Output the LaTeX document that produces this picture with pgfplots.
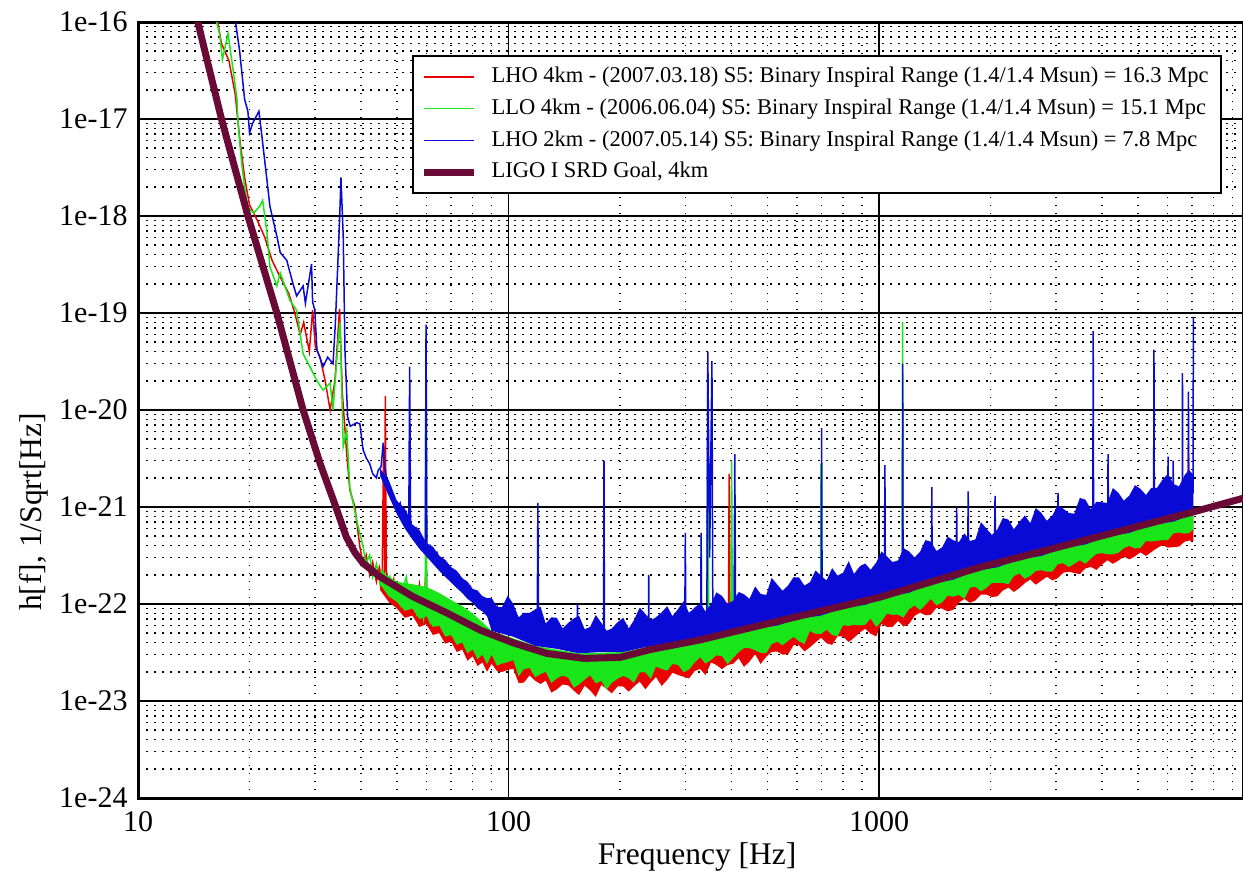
\documentclass[border=0pt]{standalone}
\usepackage{fontspec}
\setmainfont{Liberation Serif}
\usepackage{pgfplots}
\pgfplotsset{compat=1.18}
\frenchspacing

\definecolor{srd}{RGB}{105,10,55}
\definecolor{lhored}{RGB}{235,0,0}
\definecolor{llogreen}{RGB}{25,230,25}
\definecolor{lhoblue}{RGB}{10,10,215}

\begin{document}
\begin{tikzpicture}
\begin{axis}[
    xmode=log, ymode=log,
    log basis x=10, log basis y=10,
    scale only axis,
    width=442pt, height=310.4pt,
    xmin=10, xmax=9600,
    ymin=1e-24, ymax=1e-16,
    xtick={10,100,1000},
    xticklabels={10,100,1000},
    minor xtick={20,30,40,50,60,70,80,90,200,300,400,500,600,700,800,900,2000,3000,4000,5000,6000,7000,8000,9000},
    ytick={1e-24,1e-23,1e-22,1e-21,1e-20,1e-19,1e-18,1e-17,1e-16},
    yticklabels={1e-24,1e-23,1e-22,1e-21,1e-20,1e-19,1e-18,1e-17,1e-16},
    minor ytick={2e-24,3e-24,4e-24,5e-24,6e-24,7e-24,8e-24,9e-24,
                 2e-23,3e-23,4e-23,5e-23,6e-23,7e-23,8e-23,9e-23,
                 2e-22,3e-22,4e-22,5e-22,6e-22,7e-22,8e-22,9e-22,
                 2e-21,3e-21,4e-21,5e-21,6e-21,7e-21,8e-21,9e-21,
                 2e-20,3e-20,4e-20,5e-20,6e-20,7e-20,8e-20,9e-20,
                 2e-19,3e-19,4e-19,5e-19,6e-19,7e-19,8e-19,9e-19,
                 2e-18,3e-18,4e-18,5e-18,6e-18,7e-18,8e-18,9e-18,
                 2e-17,3e-17,4e-17,5e-17,6e-17,7e-17,8e-17,9e-17},
    major tick length=0pt, minor tick length=0pt,
    grid=both,
    major grid style={black, line width=0.5pt},
    minor grid style={black, line width=0.6pt, dash pattern=on 0.6pt off 2.6pt},
    axis line style={line width=1.2pt},
    tick label style={font=\fontsize{12}{14}\selectfont},
    xticklabel style={anchor=base, yshift=-13.2pt},
    yticklabel style={anchor=east, inner sep=0pt, xshift=-4pt},
    xlabel={Frequency [Hz]},
    ylabel={h[f], 1/Sqrt[Hz]},
    every axis x label/.style={at={(rel axis cs:0.506,0)}, yshift=-26.4pt, anchor=base,
        font=\fontsize{12.6}{15}\selectfont},
    every axis y label/.style={at={(rel axis cs:0,0.3686)}, xshift=-41.6pt, rotate=90, anchor=center,
        font=\fontsize{12.6}{15}\selectfont},
    legend cell align=left,
    legend image code/.code={\draw[#1] (0pt,0pt) -- (20pt,0pt);},
    legend style={at={(rel axis cs:1,1)}, anchor=north east, xshift=-8.4pt, yshift=-13.2pt,
        draw=black, line width=0.8pt, fill=white, inner xsep=3pt, inner ysep=2pt,
        column sep=3.6pt, row sep=0pt,
        nodes={inner xsep=2pt, inner ysep=1.75pt, text height=6.9pt, text depth=2.3pt},
        font=\fontsize{9}{11}\selectfont},
]

% ---------- LHO 4km (red) ----------
\addplot[forget plot, draw=none, fill=lhored] coordinates {
(45,1.4e-22)(47.5,1.05e-22)(50,9.0e-23)(52.5,7.2e-23)(55,7.6e-23)(57.5,5.8e-23)(60,6.2e-23)(62.5,4.8e-23)
(65,5.0e-23)(67.5,3.9e-23)(70,4.1e-23)(72.5,3.2e-23)(75,3.4e-23)(77.5,2.6e-23)(80,2.9e-23)(82.5,2.3e-23)
(85,2.5e-23)(87.5,2.0e-23)
(90,2.43e-23)(93,2.04e-23)(96,1.99e-23)(99.5,2.1e-23)(103,2.15e-23)(106.5,1.53e-23)(110,1.55e-23)(114,1.84e-23)
(118,1.62e-23)(122,1.5e-23)(126,1.63e-23)(130.5,1.22e-23)(135,1.32e-23)(140,1.48e-23)(145,1.45e-23)(150,1.28e-23)
(155,1.15e-23)(160.5,1.44e-23)(166,1.29e-23)(172,1.1e-23)(178,1.47e-23)(184,1.33e-23)(190,1.2e-23)(197,1.42e-23)
(204,1.41e-23)(211,1.25e-23)(218,1.41e-23)(226,1.59e-23)(234,1.32e-23)(242,1.55e-23)(250,1.77e-23)(259,1.43e-23)
(268,1.65e-23)(277,1.96e-23)(287,1.85e-23)(297,1.78e-23)(307,1.71e-23)(318,2.04e-23)(329,2.14e-23)(340,1.85e-23)
(352,2.5e-23)(364,2.35e-23)(377,2.13e-23)(390,2.35e-23)(404,2.42e-23)(418,2.76e-23)(432,2.25e-23)(447,2.55e-23)
(463,3.04e-23)(479,2.41e-23)(496,2.86e-23)(513,3.21e-23)(531,3.24e-23)(549,3.01e-23)(568,3.03e-23)(588,3.78e-23)
(608,3.75e-23)(629,3.25e-23)(651,3.59e-23)(674,4.03e-23)(697,4.49e-23)(722,3.94e-23)(747,3.79e-23)(773,4.66e-23)
(800,4.61e-23)(828,4.06e-23)(856,4.49e-23)(886,5.06e-23)(917,5.56e-23)(949,4.95e-23)(982,4.64e-23)(1015,6.24e-23)
(1050,5.83e-23)(1087,5.81e-23)(1125,6.7e-23)(1164,5.86e-23)(1205,6.24e-23)(1247,7.55e-23)(1290,8.16e-23)(1334,7.66e-23)
(1380,7.77e-23)(1429,9.15e-23)(1480,8.97e-23)(1532,8.38e-23)(1585,8.71e-23)(1641,10.3e-23)(1700,11.3e-23)(1759,10.3e-23)
(1820,10.9e-23)(1884,12.5e-23)(1950,12.5e-23)(2016,11.8e-23)(2085,12.0e-23)(2159,13.8e-23)(2235,14.8e-23)(2311,13.3e-23)
(2390,14.6e-23)(2474,16.4e-23)(2560,17.9e-23)(2648,15.8e-23)(2740,17.4e-23)(2836,19.1e-23)(2935,17.5e-23)(3038,18.5e-23)
(3145,21.1e-23)(3253,21.5e-23)(3365,20.9e-23)(3483,20.3e-23)(3605,23.3e-23)(3730,24.1e-23)(3860,22.5e-23)(3993,25.4e-23)
(4130,28.3e-23)(4275,26.0e-23)(4425,28.1e-23)(4580,30.8e-23)(4740,28.8e-23)(4905,31.1e-23)(5075,34.1e-23)(5252,31.3e-23)
(5435,34.4e-23)(5624,37.7e-23)(5820,40.5e-23)(6022,38.1e-23)(6230,38.6e-23)(6446,39.1e-23)(6670,43.8e-23)(6857,45.1e-23)
(7050,44.6e-23)
(7050,80.2e-23)(5435,61.8e-23)(4130,47.2e-23)(3145,35.9e-23)(2390,27.4e-23)(1820,20.9e-23)(1380,15.2e-23)(1050,11.2e-23)
(800,8.6e-23)(608,6.75e-23)(463,5.3e-23)(352,4.1e-23)(268,3.3e-23)(204,2.6e-23)(155,2.5e-23)(118,3.0e-23)(90,4.4e-23)
(85,5.0e-23)(80,6.2e-23)(75,7.5e-23)(70,8.8e-23)(65,1.05e-22)(60,1.2e-22)(55,1.35e-22)(50,1.5e-22)(45,1.9e-22)
};
\addplot[forget plot, lhored, line width=0.6pt] coordinates {
(16.2,1.3e-16)(16.8,6e-17)(17.6,4e-17)(18.3,1.8e-17)(18.8,6.5e-18)(19.4,2.5e-18)(20,1.3e-18)(21,9e-19)
(22,6e-19)(23,3.5e-19)(24,2.5e-19)(25.5,1.6e-19)(26.5,1.0e-19)(27.4,6e-20)(28,8e-20)(29,4e-20)
(29.6,1.07e-19)(30.1,4.5e-20)(31,3.5e-20)(32,2.0e-20)(33,1.0e-20)(34,2e-20)(35.0,1.1e-19)(35.6,1.5e-20)
(36.5,4e-21)(37.3,1.5e-21)(38.5,1.0e-21)(39.7,3.9e-22)(40.5,2.6e-22)(41.3,3.2e-22)(42.2,2.0e-22)(43,2.7e-22)
(44,1.7e-22)(44.8,2.4e-22)(45.6,1.8e-22)(46.0,4.2e-21)(46.3,2.0e-22)(46.5,1.4e-20)(46.8,2.2e-22)(48,1.3e-22)
(49,1.8e-22)(50,1.1e-22)(51.5,1.5e-22)(53,9.5e-23)(54.5,1.3e-22)(56,8.5e-23)(57.5,1.6e-22)(59,7.5e-23)
(59.9,2.5e-22)(60.5,7e-23)(62,9e-23)(63.5,5.8e-23)(65,8e-23)(66.5,5.2e-23)(68,7.2e-23)(70,4.6e-23)
(72,6.4e-23)(74,4.2e-23)(76,5.8e-23)(78,3.7e-23)(80,5.2e-23)(82,3.3e-23)(84,4.6e-23)(86,3.0e-23)
(88,4.2e-23)(90,2.7e-23)(92,3.8e-23)(94,2.5e-23)(103,2.6e-23)(166,1.8e-23)(250,2.3e-23)(392,3.3e-23)
(394,2.2e-21)(396,3.3e-23)(700,5.5e-23)(1034,7.8e-23)(1037,4e-22)(1040,7.8e-23)(3000,2.5e-22)(6830,5.5e-22)
(6840,4.5e-21)(6850,5.5e-22)(7050,5.8e-22)
};

% ---------- LLO 4km (green) ----------
\addplot[forget plot, draw=none, fill=llogreen] coordinates {
(45,1.6e-22)(47.5,1.2e-22)(50,1.05e-22)(52.5,8.5e-23)(55,9.0e-23)(57.5,7.0e-23)(60,7.5e-23)(62.5,5.8e-23)
(65,6.0e-23)(67.5,4.6e-23)(70,4.8e-23)(72.5,3.8e-23)(75,4.0e-23)(77.5,3.1e-23)(80,3.4e-23)(82.5,2.7e-23)
(85,3.0e-23)(87.5,2.4e-23)
(90,3.0e-23)(93,2.32e-23)(96,2.43e-23)(99.5,2.52e-23)(103,2.63e-23)(106.5,1.8e-23)(110,2.13e-23)(114,2.19e-23)
(118,1.76e-23)(122,1.89e-23)(126,2.0e-23)(130.5,1.53e-23)(135,1.71e-23)(140,1.83e-23)(145,1.74e-23)(150,1.37e-23)
(155,1.48e-23)(160.5,1.66e-23)(166,1.84e-23)(172,1.52e-23)(178,1.61e-23)(184,1.31e-23)(190,1.54e-23)(197,1.7e-23)
(204,1.81e-23)(211,1.72e-23)(218,1.54e-23)(226,1.97e-23)(234,1.97e-23)(242,1.69e-23)(250,2.26e-23)(259,2.14e-23)
(268,2.05e-23)(277,2.41e-23)(287,2.35e-23)(297,1.98e-23)(307,2.11e-23)(318,2.5e-23)(329,2.82e-23)(340,2.43e-23)
(352,2.64e-23)(364,2.96e-23)(377,2.9e-23)(390,2.4e-23)(404,2.78e-23)(418,3.19e-23)(432,3.51e-23)(447,3.51e-23)
(463,3.33e-23)(479,3.14e-23)(496,3.11e-23)(513,3.85e-23)(531,4.1e-23)(549,3.76e-23)(568,4.16e-23)(588,4.58e-23)
(608,4.13e-23)(629,3.87e-23)(651,5.27e-23)(674,4.93e-23)(697,4.91e-23)(722,5.43e-23)(747,4.79e-23)(773,4.66e-23)
(800,6.05e-23)(828,5.94e-23)(856,6.12e-23)(886,6.01e-23)(917,6.1e-23)(949,7.09e-23)(982,5.8e-23)(1015,6.6e-23)
(1050,7.94e-23)(1087,7.74e-23)(1125,7.77e-23)(1164,7.25e-23)(1205,8.85e-23)(1247,9.66e-23)(1290,8.64e-23)(1334,9.78e-23)
(1380,11.3e-23)(1429,9.68e-23)(1480,10.4e-23)(1532,12.2e-23)(1585,11.9e-23)(1641,12.4e-23)(1700,11.3e-23)(1759,14.7e-23)
(1820,15.1e-23)(1884,13.5e-23)(1950,14.7e-23)(2016,16.5e-23)(2085,16.5e-23)(2159,16.5e-23)(2235,16.0e-23)(2311,19.4e-23)
(2390,20.7e-23)(2474,18.2e-23)(2560,19.5e-23)(2648,21.9e-23)(2740,22.3e-23)(2836,21.6e-23)(2935,21.6e-23)(3038,25.8e-23)
(3145,26.3e-23)(3253,24.0e-23)(3365,26.0e-23)(3483,28.3e-23)(3605,26.0e-23)(3730,29.4e-23)(3860,32.8e-23)(3993,33.5e-23)
(4130,32.5e-23)(4275,32.6e-23)(4425,33.7e-23)(4580,37.8e-23)(4740,39.7e-23)(4905,37.3e-23)(5075,37.9e-23)(5252,44.6e-23)
(5435,44.0e-23)(5624,44.8e-23)(5820,45.6e-23)(6022,45.7e-23)(6230,53.5e-23)(6446,54.6e-23)(6670,53.1e-23)(6857,53.8e-23)
(7050,58.8e-23)
(7050,98e-23)(5435,75.6e-23)(4130,57.6e-23)(3145,43.9e-23)(2390,33.4e-23)(1820,25.5e-23)(1380,18.6e-23)(1050,13.6e-23)
(800,10.6e-23)(608,8.3e-23)(463,6.4e-23)(352,5.0e-23)(268,4.0e-23)(204,3.2e-23)(155,3.1e-23)(118,3.7e-23)(90,5.3e-23)
(85,6.5e-23)(80,8.0e-23)(75,9.5e-23)(70,1.1e-22)(65,1.3e-22)(60,1.5e-22)(55,1.6e-22)(50,1.7e-22)(45,2.2e-22)
};
\addplot[forget plot, llogreen, line width=0.6pt] coordinates {
(16.2,1.3e-16)(16.3,1.0e-16)(16.6,7.6e-17)(16.9,4.1e-17)(17.5,7.6e-17)(18.1,3.0e-17)(18.5,1.6e-17)(18.6,9.8e-18)
(18.8,6.0e-18)(19.1,3.2e-18)(19.4,2.0e-18)(19.8,1.23e-18)(20.5,1.07e-18)(21.3,1.26e-18)(21.7,1.45e-18)(22.3,6.6e-19)
(22.7,3.0e-19)(23.7,1.9e-19)(24.2,2.6e-19)(25.7,1.35e-19)(26.8,1.07e-19)(27.9,3.8e-20)(29.1,2.8e-20)(30.4,2.0e-20)
(31.6,1.6e-20)(33.0,1.9e-20)(33.6,1.0e-20)(34.7,5.2e-20)(35.1,8e-20)(35.8,4.2e-21)(36.6,6.2e-21)(37.3,1.6e-21)
(38.9,7.4e-22)(40.5,3.9e-22)(41.2,2.6e-22)(42.2,3.2e-22)(43,1.9e-22)(44,2.6e-22)(45,1.6e-22)(45.9,2.2e-22)
(47,1.4e-22)(47.9,1.9e-22)(49,1.2e-22)(49.9,1.5e-22)(51,1.0e-22)(52,1.5e-22)(53,1.9e-22)(54,1.0e-22)
(55.2,1.3e-22)(56.5,8e-23)(57.7,1.1e-22)(59.0,7e-23)(59.6,1.0e-22)(59.9,6.6e-20)(60.2,9e-23)(61.4,6.5e-23)
(62.7,9.5e-23)(64,6.2e-23)(65.5,8.5e-23)(67,5.5e-23)(68.5,7.8e-23)(70,5.0e-23)(71.5,7.0e-23)(73,4.5e-23)
(74.5,6.4e-23)(76,4.2e-23)(78,5.8e-23)(80,3.8e-23)(82,5.2e-23)(84,3.4e-23)(86,4.8e-23)(88,3.1e-23)
(90,4.4e-23)(92,2.9e-23)(94,4.0e-23)(103,3.2e-23)(166,2.3e-23)(250,2.8e-23)(330,3.4e-23)(331,5.0e-22)
(332,3.4e-23)(343,3.6e-23)(345,2.2e-20)(347,3.6e-23)(398,4.1e-23)(400,3.0e-21)(402,4.1e-23)(500,5.0e-23)
(695,6.8e-23)(697,2.8e-21)(699,6.8e-23)(850,8.2e-23)(1155,1.1e-22)(1158,8.1e-20)(1161,1.1e-22)(3000,3.0e-22)
(7050,7e-22)
};

% ---------- LHO 2km (blue) ----------
\addplot[forget plot, draw=none, fill=lhoblue] coordinates {
(45,2.5e-21)(47.5,1.9e-21)(50,1.15e-21)(52.5,9.6e-22)(55,6.6e-22)(57.5,5.8e-22)(60,4.25e-22)(62.5,3.9e-22)
(65,3.15e-22)(67.5,2.85e-22)(70,2.4e-22)(72.5,2.2e-22)(75,1.85e-22)(77.5,1.7e-22)(80,1.43e-22)(82.5,1.38e-22)
(85,1.2e-22)(87.5,1.15e-22)
(90,11.6e-23)(93,9.3e-23)(96,9.3e-23)(99.5,12.2e-23)(103,10.0e-23)(106.5,7.3e-23)(110,8.1e-23)(114,8.1e-23)
(118,8.8e-23)(122,9.4e-23)(126,6.3e-23)(130.5,7.3e-23)(135,7.2e-23)(140,5.6e-23)(145,6.4e-23)(150,7.1e-23)
(155,7.6e-23)(160.5,5.5e-23)(166,5.8e-23)(172,7.7e-23)(178,6.4e-23)(184,5.3e-23)(190,5.6e-23)(197,6.5e-23)
(204,7.2e-23)(211,5.6e-23)(218,6.8e-23)(226,9.2e-23)(234,7.9e-23)(242,6.8e-23)(250,7.3e-23)(259,8.2e-23)
(268,9.5e-23)(277,7.5e-23)(287,8.9e-23)(297,10.7e-23)(307,8.1e-23)(318,9.2e-23)(329,10.2e-23)(340,8.4e-23)
(352,10.0e-23)(364,13.2e-23)(377,12.1e-23)(390,10.0e-23)(404,10.8e-23)(418,13.3e-23)(432,12.6e-23)(447,11.3e-23)
(463,15.2e-23)(479,12.7e-23)(496,12.4e-23)(513,18.6e-23)(531,15.9e-23)(549,13.7e-23)(568,15.5e-23)(588,18.9e-23)
(608,18.8e-23)(629,15.5e-23)(651,16.8e-23)(674,22.2e-23)(697,19.5e-23)(722,17.5e-23)(747,23.5e-23)(773,19.6e-23)
(800,21.1e-23)(828,27.7e-23)(856,20.4e-23)(886,24.3e-23)(917,26.2e-23)(949,22.5e-23)(982,26.7e-23)(1015,34.8e-23)
(1050,31.0e-23)(1087,27.1e-23)(1125,28.1e-23)(1164,37.7e-23)(1205,34.8e-23)(1247,30.2e-23)(1290,34.5e-23)(1334,45.6e-23)
(1380,43.9e-23)(1429,35.2e-23)(1480,38.4e-23)(1532,49.5e-23)(1585,45.5e-23)(1641,43.3e-23)(1700,53.5e-23)(1759,44.6e-23)
(1820,46.4e-23)(1884,69.7e-23)(1950,59.8e-23)(2016,51.5e-23)(2085,58.5e-23)(2159,77.1e-23)(2235,74.1e-23)(2311,58.9e-23)
(2390,69.9e-23)(2474,81.8e-23)(2560,68.3e-23)(2648,97.6e-23)(2740,87.0e-23)(2836,72.0e-23)(2935,81.8e-23)(3038,104e-23)
(3145,95.8e-23)(3253,86.7e-23)(3365,85.4e-23)(3483,124e-23)(3605,119e-23)(3730,94.7e-23)(3860,113e-23)(3993,112e-23)
(4130,110e-23)(4275,157e-23)(4425,140e-23)(4580,116e-23)(4740,132e-23)(4905,168e-23)(5075,154e-23)(5252,133e-23)
(5435,158e-23)(5624,157e-23)(5820,191e-23)(6022,221e-23)(6230,173e-23)(6446,163e-23)(6670,211e-23)(6857,243e-23)
(7050,214e-23)
(7050,84.6e-23)(6230,70.8e-23)(5435,65.3e-23)(4740,54.1e-23)(4130,49.8e-23)(3605,41.1e-23)(3145,37.9e-23)(2740,31.3e-23)
(2390,28.9e-23)(2085,23.9e-23)(1820,22.0e-23)(1585,17.8e-23)(1380,16.1e-23)(1205,13.1e-23)(1050,11.8e-23)(917,9.8e-23)
(800,9.1e-23)(697,7.6e-23)(608,7.1e-23)(531,6.0e-23)(463,5.6e-23)(404,4.9e-23)(352,4.55e-23)(307,4.3e-23)
(268,3.85e-23)(234,3.6e-23)(204,3.2e-23)(178,3.2e-23)(155,3.1e-23)(135,3.45e-23)(118,3.7e-23)(103,4.6e-23)(90,5.3e-23)
(87.5,7.5e-23)(85,8.4e-23)(82.5,9.0e-23)(80,1.03e-22)(77.5,1.13e-22)(75,1.3e-22)(72.5,1.46e-22)(70,1.67e-22)
(67.5,1.9e-22)(65,2.2e-22)(62.5,2.6e-22)(60,3.1e-22)(57.5,3.7e-22)(55,4.65e-22)(52.5,6.0e-22)(50,8.4e-22)
(47.5,1.3e-21)(45,2.1e-21)
};
\addplot[forget plot, lhoblue, line width=0.6pt] coordinates {
(18.1,1.4e-16)(18.8,5.1e-17)(19.4,1.6e-17)(19.8,1.2e-17)(20.0,7.2e-18)(20.4,9.1e-18)(21.2,1.2e-17)(21.6,6.6e-18)
(22.3,2.3e-18)(22.7,1.26e-18)(23.7,6.2e-19)(24.2,4.2e-19)(25.2,3.5e-19)(26.2,2.0e-19)(26.8,1.5e-19)(27.9,1.9e-19)
(28.3,1.26e-19)(29.4,3.2e-19)(29.6,1.3e-19)(30.0,1.07e-19)(30.4,4.2e-20)(31.6,2.8e-20)(32.5,3.5e-20)(33.6,3.0e-20)
(34.1,7.9e-20)(35.0,9.1e-19)(35.3,2.5e-18)(35.8,6.2e-19)(36.2,4e-20)(36.8,8.5e-21)(37.4,6.8e-21)(38.9,7.4e-21)
(39.7,7.2e-21)(40.5,3.9e-21)(41.3,3.2e-21)(42.2,2.8e-21)(43,2.2e-21)(44.0,2.0e-21)(44.5,2.4e-21)(45.3,2.6e-21)
(45.9,4.6e-21)(46.3,2.6e-21)(46.8,2.0e-21)(47.9,1.5e-21)(48.8,1.2e-21)(49.9,9.3e-22)(51,1.1e-21)(52.0,7.9e-22)
(53,8.8e-22)(53.8,6.5e-22)(54.1,2.8e-20)(54.4,6.3e-22)(55.4,5.2e-22)(56.5,6.0e-22)(57.7,4.0e-22)(58.9,4.6e-22)
(59.6,3.8e-22)(59.9,7.6e-20)(60.2,3.6e-22)(61.4,4.0e-22)(62.7,2.9e-22)(64.1,3.4e-22)(65.4,2.6e-22)(66.8,2.5e-22)
(68.2,2.0e-22)(69.7,2.3e-22)(71.1,1.7e-22)(72.6,1.9e-22)(74.1,1.45e-22)(75.7,1.7e-22)(77.3,1.3e-22)(78.9,1.5e-22)
(80.5,1.1e-22)(82.2,1.3e-22)(84,9.5e-23)(85.7,1.15e-22)(87.5,8.5e-23)(89.4,1.0e-22)(91.3,7.6e-23)(93.2,9.5e-23)
(95,7.2e-23)(110,6.0e-23)(119.5,5.2e-23)(120,1.1e-21)(120.5,5.0e-23)(140,4.8e-23)(153,4.5e-23)(153.5,1.0e-22)
(154,4.5e-23)(180.5,4.4e-23)(181,3.0e-21)(181.5,4.4e-23)(238.5,5.2e-23)(239,2.0e-22)(239.5,5.2e-23)(299,6.2e-23)
(300,5.4e-22)(301,6.2e-23)(330,6.8e-23)(331,5.4e-22)(332,6.8e-23)(343,7e-23)(345,4.0e-20)(349,3e-22)
(354,3.2e-20)(356,7.3e-23)(406,8e-23)(408,3.5e-21)(410,8.2e-23)(698,1.35e-22)(700,6.5e-21)(702,1.35e-22)
(1034,1.9e-22)(1037,2.7e-21)(1040,1.9e-22)(1155,2.1e-22)(1158,3.0e-20)(1161,2.1e-22)(1385,2.7e-22)(1388,1.6e-21)
(1391,2.7e-22)(1616,3.1e-22)(1620,1.0e-21)(1624,3.1e-22)(1735,3.4e-22)(1740,1.45e-21)(1745,3.4e-22)(2050,4.2e-22)
(2056,1.3e-21)(2062,4.2e-22)(3033,6.0e-22)(3041,1.4e-21)(3049,6.0e-22)(3775,7.4e-22)(3784,6.5e-20)(3793,7.4e-22)
(4140,8.2e-22)(4150,3.5e-21)(4160,8.2e-22)(5508,1.1e-21)(5520,4.2e-20)(5532,1.1e-21)(6015,1.2e-21)(6025,3.3e-21)
(6035,1.2e-21)(6210,1.25e-21)(6220,3.0e-21)(6230,1.25e-21)(6580,1.3e-21)(6590,2.4e-20)(6600,1.3e-21)(6830,1.35e-21)
(6840,1.55e-20)(6850,1.35e-21)(7040,1.4e-21)(7050,9.1e-20)
};

% ---------- LIGO I SRD goal ----------
\addplot[forget plot, srd, line width=2.8pt] coordinates {
(14.0,3.16e-16)(14.5,1e-16)(16.8,1e-17)(19.8,1e-18)(23.7,1e-19)(27.9,1e-20)(31.0,2.82e-21)(34.2,1e-21)
(36.5,4.9e-22)(38.5,3.39e-22)(40.5,2.63e-22)(45,1.91e-22)(55,1.2e-22)(68,8.13e-23)(84,5.37e-23)(103,3.98e-23)
(127,3.09e-23)(160,2.75e-23)(200,2.82e-23)(241,3.39e-23)(329,4.27e-23)(422,5.37e-23)(600,7.41e-23)(1000,1.17e-22)
(1875,2.4e-22)(3000,3.8e-22)(7050,8.9e-22)(9600,1.23e-21)
};

\addlegendimage{lhored, line width=0.6pt}
\addlegendentry{LHO 4km - (2007.03.18) S5: Binary Inspiral Range (1.4/1.4 Msun) = 16.3 Mpc}
\addlegendimage{llogreen, line width=0.6pt}
\addlegendentry{LLO 4km - (2006.06.04) S5: Binary Inspiral Range (1.4/1.4 Msun) = 15.1 Mpc}
\addlegendimage{lhoblue, line width=0.6pt}
\addlegendentry{LHO 2km - (2007.05.14) S5: Binary Inspiral Range (1.4/1.4 Msun) = 7.8 Mpc}
\addlegendimage{srd, line width=2.8pt}
\addlegendentry{LIGO I SRD Goal, 4km}

\coordinate (bbsw) at (rel axis cs:0,0);
\coordinate (bbne) at (rel axis cs:1,1);
\end{axis}
\pgfresetboundingbox
\path ([xshift=-55.2pt, yshift=-29.2pt]bbsw) rectangle ([yshift=8.8pt]bbne);
\end{tikzpicture}
\end{document}
